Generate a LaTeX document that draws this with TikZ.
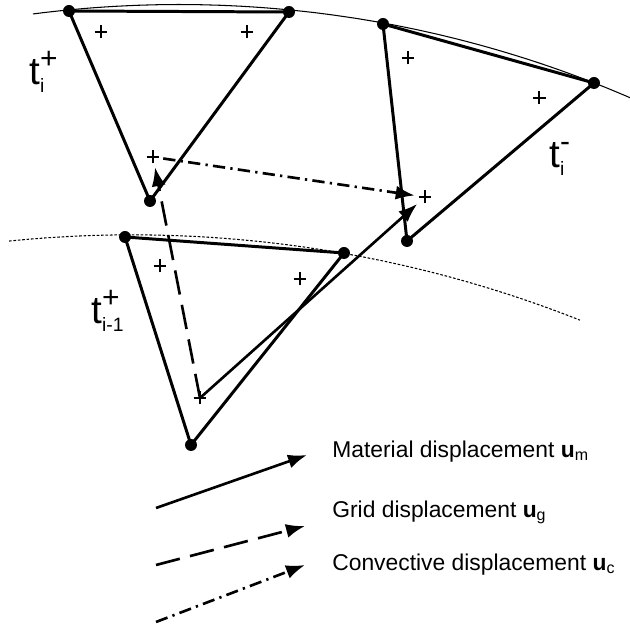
\documentclass[tikz,border=0pt]{standalone}
\usepackage{fontspec}
\setmainfont{Liberation Sans}
\newfontfamily\figfont{Liberation Sans}
\usetikzlibrary{arrows.meta,positioning}

% time level label: t with stacked super- and subscript
\newcommand{\tlabel}[2]{t\makebox[0pt][l]{\raisebox{9.5pt}{\fontsize{17}{17}\selectfont #1}}\raisebox{-4.5pt}{\fontsize{11}{11}\selectfont #2}}

\begin{document}
\begin{tikzpicture}[
      x=0.02cm, y=-0.02cm,
      % Reusable styles for a cleaner look
      vertex/.style={circle, fill=black, inner sep=0pt, minimum size=0.24cm},
      gauss/.style={
        circle, inner sep=0pt, minimum size=0.4cm,
        path picture={
          \draw[line width=1.5pt] ([xshift=-0.13cm]path picture bounding box.center) -- ([xshift=0.13cm]path picture bounding box.center);
          \draw[line width=1.5pt] ([yshift=-0.13cm]path picture bounding box.center) -- ([yshift=0.13cm]path picture bounding box.center);
        }
      },
      side/.style={line width=1.7pt, line join=round},
      front/.style={line width=0.6pt},
      oldfront/.style={line width=0.6pt, dash pattern=on 1.5pt off 1pt},
      disp/.style={line width=1.5pt, -{Latex[length=0.38cm, width=0.28cm]}},
      material/.style={disp},
      grid/.style={disp, dash pattern=on 14pt off 6pt},
      convect/.style={disp, dash pattern=on 7pt off 3pt on 1.3pt off 3pt},
      tlab/.style={inner sep=0pt, anchor=base west, font={\figfont\fontsize{22}{23}\selectfont}},
      legend/.style={inner sep=0pt, anchor=mid west, font={\figfont\fontsize{13}{15}\selectfont}}
    ]
    \useasboundingbox (0,0) rectangle (630,624);

    % The two fronts
    \draw[front] plot[domain=97.37:66.4, samples=60] ({179+1138.5*cos(\x)}, {1143-1138.5*sin(\x)});
    \draw[oldfront] plot[domain=95.79:68.44, samples=60] ({132+1219*cos(\x)}, {1453.8-1219*sin(\x)});

    % Element at t_i^+
    \node[vertex] (A1) at (69,11) {};
    \node[vertex] (A2) at (289,12) {};
    \node[vertex] (A3) at (150,201) {};
    \draw[side] (A1.center) -- (A2.center) -- (A3.center) -- cycle;
    \node[gauss] (a1) at (101,32) {};
    \node[gauss] (a2) at (247,32) {};
    \node[gauss] (a3) at (153,157) {};
    \node[tlab] (tA) at (29,85) {\tlabel{+}{i}};

    % Element at t_i^-
    \node[vertex] (B1) at (383,24) {};
    \node[vertex] (B2) at (594,83) {};
    \node[vertex] (B3) at (407,241) {};
    \draw[side] (B1.center) -- (B2.center) -- (B3.center) -- cycle;
    \node[gauss] (b1) at (408,58) {};
    \node[gauss] (b2) at (539,98) {};
    \node[gauss] (b3) at (425,197) {};
    \node[tlab] (tB) at (549,168) {\tlabel{-}{i}};

    % Element at t_{i-1}^+
    \node[vertex] (C1) at (125,237) {};
    \node[vertex] (C2) at (344,253) {};
    \node[vertex] (C3) at (191,445) {};
    \draw[side] (C1.center) -- (C2.center) -- (C3.center) -- cycle;
    \node[gauss] (c1) at (160,266) {};
    \node[gauss] (c2) at (300,279) {};
    \node[gauss] (c3) at (200,398) {};
    \node[tlab] (tC) at (91,324) {\tlabel{+}{i-1}};

    % Displacements of the Gauss point
    \draw[material] (c3.center) -- (b3);
    \draw[grid] (c3.center) -- (a3);
    \draw[convect] (a3) -- (b3);

    % Legend
    \coordinate (m0) at (156,508);
    \coordinate (m1) at (307,455);
    \coordinate (g0) at (156,565);
    \coordinate (g1) at (305,526);
    \coordinate (k0) at (156,622);
    \coordinate (k1) at (305,565);
    \draw[material] (m0) -- (m1);
    \draw[grid] (g0) -- (g1);
    \draw[convect] (k0) -- (k1);
    \node[legend] (mtext) at (332,453) {Material displacement \textbf{u}\textsubscript{m}};
    \node[legend] (gtext) at (332,513) {Grid displacement \textbf{u}\textsubscript{g}};
    \node[legend] (ktext) at (332,566) {Convective displacement \textbf{u}\textsubscript{c}};
  \end{tikzpicture}
\end{document}
